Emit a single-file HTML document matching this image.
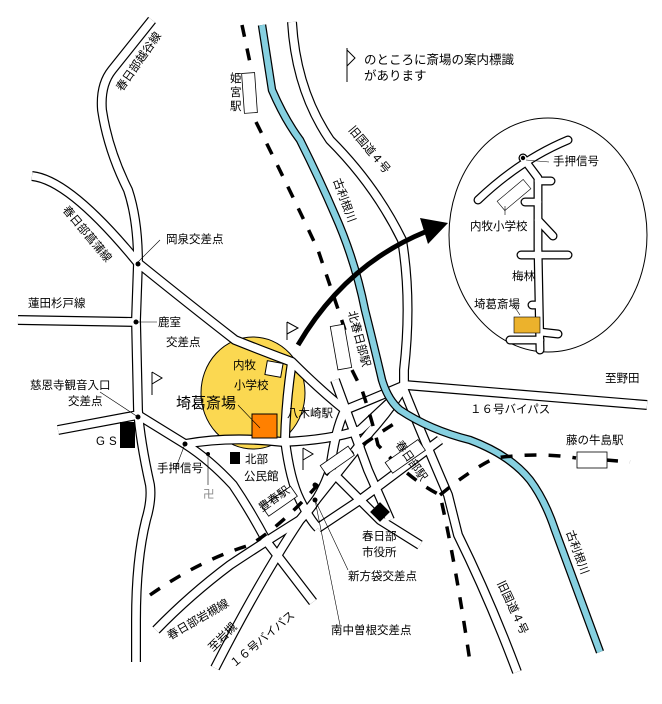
<!DOCTYPE html>
<html><head><meta charset="utf-8"><style>
html,body{margin:0;padding:0;background:#fff;}
svg{display:block;font-family:"Liberation Sans","Noto Sans CJK JP",sans-serif;}
.ro{fill:none;stroke:#000;stroke-width:10;stroke-linejoin:round;stroke-linecap:butt}
.ri{fill:none;stroke:#fff;stroke-width:7.6;stroke-linejoin:round;stroke-linecap:butt}
.rail{fill:none;stroke:#000;stroke-width:3.5;stroke-dasharray:12,12}
.t{font-size:11.5px;fill:#000}
</style></head><body>
<svg width="662" height="704" viewBox="0 0 662 704">
<defs>
<g id="roads">
<path d="M152,20 L112,70 Q100,85 102,110 Q108,150 128,190 Q138,220 138,263 L136,320 L138,410 Q140,440 150,485 Q152,500 146,520 Q136,560 136,620 L136,662"/>
<path d="M32,176 Q70,180 138,263 Q190,305 235,340 Q265,352 292,362 Q320,390 345,410 Q370,400 405,385"/>
<path d="M18,320 L136,322"/>
<path d="M58,430 L138,415 L185,444 Q210,460 233,485 Q250,510 267,542 Q290,572 313,602"/>
<path d="M185,444 Q230,436 283,442 Q330,440 360,430 L405,388"/>
<path d="M292,362 Q286,400 285,440 Q290,480 300,500 Q310,520 318,528"/>
<path d="M405,385 L647,405"/>
<path d="M405,385 Q390,410 370,432 Q340,470 300,520 Q260,580 215,668"/>
<path d="M292,22 Q296,90 330,140 Q375,185 402,240 Q412,300 404,370 L404,390 Q420,430 448,495 L458,535 Q490,600 517,672"/>
<path d="M345,410 Q335,430 330,470 Q320,500 300,520 Q260,545 230,565 Q190,595 156,630"/>
<path d="M318,528 L360,500 Q400,470 440,440"/>
<path d="M330,470 L380,520 L420,545"/>
<path d="M335,380 L368,470 L390,520"/>
</g>
</defs>
<ellipse cx="253" cy="393" rx="52" ry="56" fill="#fbd851" stroke="#000" stroke-width="1"/>
<g class="ro"><use href="#roads"/></g>
<g class="ri"><use href="#roads"/></g>
<path d="M262,25 L272,90 Q285,120 300,140 Q320,180 335,215 Q355,260 365,310 Q375,350 382,380 Q388,400 400,410 Q430,430 470,440 Q510,455 530,480 Q545,500 555,530 L600,652" fill="none" stroke="#000" stroke-width="8.5"/>
<path d="M262,25 L272,90 Q285,120 300,140 Q320,180 335,215 Q355,260 365,310 Q375,350 382,380 Q388,400 400,410 Q430,430 470,440 Q510,455 530,480 Q545,500 555,530 L600,652" fill="none" stroke="#86d0e0" stroke-width="6"/>
<path class="rail" d="M242,25 L252,72 M256,122 Q290,190 318,250 Q335,300 345,330 M352,370 L362,390 Q372,420 378,445 Q410,480 440,495 Q455,560 470,662"/>
<path class="rail" d="M150,595 Q200,560 250,545 Q290,520 330,470 Q360,445 400,420"/>
<path class="rail" d="M440,495 Q470,470 495,458 Q540,452 576,458 M606,460 L630,462"/>
<rect x="243" y="73" width="13" height="40" fill="#fff" stroke="#000" stroke-width=".8" transform="rotate(-4 249 93)"/>
<rect x="334" y="325" width="14" height="44" fill="#fff" stroke="#000" stroke-width=".8" transform="rotate(-10 341 347)"/>
<rect x="577" y="452" width="30" height="16" fill="#fff" stroke="#000" stroke-width=".8"/>
<rect x="385" y="450" width="40" height="13" fill="#fff" stroke="#000" stroke-width=".8" transform="rotate(-35 405 456)"/>
<rect x="262" y="495" width="35" height="12" fill="#fff" stroke="#000" stroke-width=".8" transform="rotate(-35 280 501)"/>
<rect x="320" y="455" width="34" height="11" fill="#fff" stroke="#000" stroke-width=".8" transform="rotate(-35 337 460)"/>
<rect x="252" y="414" width="25" height="24" fill="#ff8000" stroke="#000" stroke-width="1"/>
<rect x="266" y="362" width="16" height="14" fill="#fff" stroke="#000" stroke-width="1" transform="rotate(10 274 369)"/>
<rect x="120" y="422" width="15" height="26" fill="#000"/>
<rect x="230" y="452" width="10" height="12" fill="#000"/>
<rect x="373" y="505" width="14" height="14" fill="#000" transform="rotate(45 380 512)"/>
<g fill="#000"><circle cx="138" cy="264" r="2.5"/><circle cx="136" cy="322" r="2.5"/><circle cx="138" cy="417" r="2.5"/><circle cx="185" cy="444" r="2.5"/><circle cx="208" cy="454" r="2"/><circle cx="315" cy="485" r="2.5"/><circle cx="315" cy="500" r="2.5"/></g>
<g stroke="#000" stroke-width=".6" fill="none">
<path d="M138,262 L160,240 M136,322 L157,322 M138,417 L100,392 M185,444 L175,470 M208,454 L208,485 M315,500 L348,570 M315,500 L340,625 M260,428 L238,405"/>
</g>
<g fill="none" stroke="#000" stroke-width="1">
<path d="M347,48 L347,82 M347,50 L355,58 L347,66"/>
<path d="M287,322 L287,340 M287,322 L298,328 L287,334"/>
<path d="M152,372 L152,395 M152,372 L162,378 L152,384"/>
<path d="M303,448 L303,470 M303,448 L313,454 L303,460"/>
</g>
<path d="M298,345 Q345,265 425,232" fill="none" stroke="#000" stroke-width="5"/>
<path d="M420,218 L448,223 L428,244 Z" fill="#000"/>
<ellipse cx="548" cy="235" rx="99" ry="117" fill="#fff" stroke="#000" stroke-width="1"/>
<g fill="none" stroke="#000" stroke-width="9" stroke-linecap="round" stroke-linejoin="round">
<path d="M478,200 Q520,160 568,140"/><path d="M523,158 L538,178 L538,248 L540,350"/><path d="M538,181 L551,181"/><path d="M525,202 L538,202"/><path d="M538,220 L553,236"/><path d="M521,255 L568,255"/><path d="M532,305 L538,305"/><path d="M510,340 L540,340"/><path d="M540,332 L558,334"/>
</g>
<g fill="none" stroke="#fff" stroke-width="6.5" stroke-linecap="round" stroke-linejoin="round">
<path d="M478,200 Q520,160 568,140"/><path d="M523,158 L538,178 L538,248 L540,350"/><path d="M538,181 L551,181"/><path d="M525,202 L538,202"/><path d="M538,220 L553,236"/><path d="M521,255 L568,255"/><path d="M532,305 L538,305"/><path d="M510,340 L540,340"/><path d="M540,332 L558,334"/>
</g>
<rect x="497" y="189" width="34" height="12" fill="#fff" stroke="#000" stroke-width=".6" transform="rotate(-40 514 195)"/>
<rect x="514" y="317" width="26" height="16" fill="#ecb22c" stroke="#000" stroke-width=".6"/>
<circle cx="523" cy="158" r="2.2" fill="#000"/>
<path d="M526,160 L549,162 M505,206 L505,215 M514,306 L520,315" stroke="#000" stroke-width=".6"/>
<text class="t" x="364" y="64" style="font-size:12.5px">のところに斎場の案内標識</text>
<text class="t" x="364" y="80" style="font-size:12.5px">があります</text>
<text class="t" x="553" y="165">手押信号</text>
<text class="t" x="470" y="230">内牧小学校</text>
<text class="t" x="512" y="280">梅林</text>
<text class="t" x="474" y="308">埼葛斎場</text>
<text class="t" x="166" y="243">岡泉交差点</text>
<text class="t" x="28" y="307">蓮田杉戸線</text>
<text class="t" x="158" y="326">鹿室</text>
<text class="t" x="166" y="346">交差点</text>
<text class="t" x="30" y="389">慈恩寺観音入口</text>
<text class="t" x="68" y="405">交差点</text>
<text class="t" x="96" y="445" style="letter-spacing:4px">GS</text>
<text class="t" x="157" y="472">手押信号</text>
<text class="t" x="203" y="498" style="fill:#888">卍</text>
<text class="t" x="245" y="463">北部</text>
<text class="t" x="244" y="480">公民館</text>
<text class="t" x="233" y="369">内牧</text>
<text class="t" x="234" y="389">小学校</text>
<text x="176" y="408" style="font-size:15px">埼葛斎場</text>
<text class="t" x="287" y="417">八木崎駅</text>
<text class="t" x="605" y="382">至野田</text>
<text class="t" x="470" y="413">１６号バイパス</text>
<text class="t" x="566" y="444">藤の牛島駅</text>
<text class="t" x="362" y="540">春日部</text>
<text class="t" x="362" y="556">市役所</text>
<text class="t" x="348" y="580">新方袋交差点</text>
<text class="t" x="331" y="634">南中曽根交差点</text>
<text class="t" transform="translate(170,640) rotate(-30)">春日部岩槻線</text>
<text class="t" transform="translate(213,652) rotate(-45)">至岩槻</text>
<text class="t" transform="translate(234,668) rotate(-40)">１６号バイパス</text>
<text class="t" transform="translate(262,512) rotate(-35)">豊春駅</text>
<text class="t" transform="translate(395,444) rotate(55)">春日部駅</text>
<text class="t" transform="translate(348,130) rotate(50)">旧国道４号</text>
<text class="t" transform="translate(497,583) rotate(65)">旧国道４号</text>
<text class="t" transform="translate(566,532) rotate(70)">古利根川</text>
<text class="t" transform="translate(333,180) rotate(70)">古利根川</text>
<text class="t" transform="translate(348,312) rotate(75)">北春日部駅</text>
<text class="t" transform="translate(122,92) rotate(-55)">春日部越谷線</text>
<text class="t" transform="translate(62,210) rotate(50)">春日部菖蒲線</text>
<text class="t" x="230" y="82">姫</text><text class="t" x="230" y="96">宮</text><text class="t" x="230" y="110">駅</text>
</svg>
</body></html>
